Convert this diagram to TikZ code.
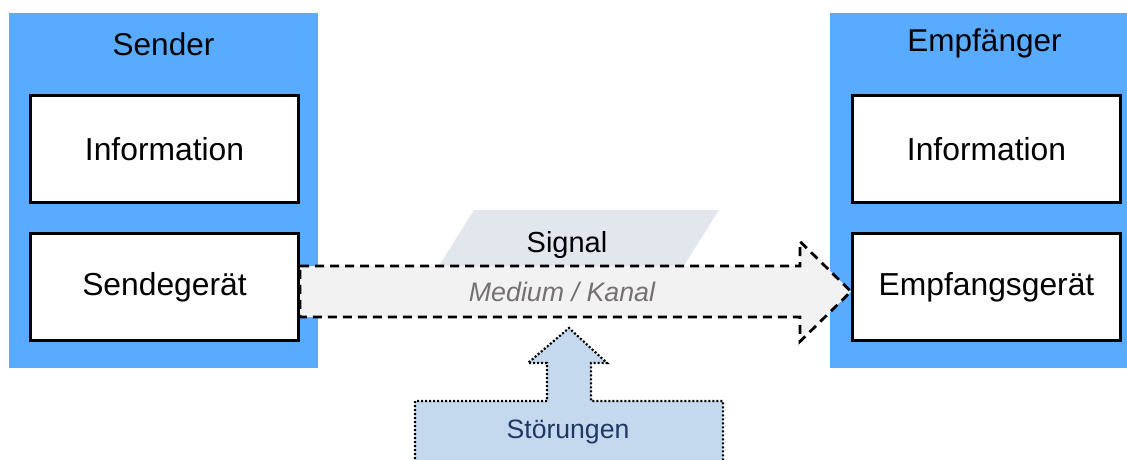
\documentclass[tikz,border=0pt]{standalone}
\usepackage{fontspec}
\setmainfont{Liberation Sans}
\usetikzlibrary{calc}
\definecolor{frameblue}{RGB}{89,171,255}
\definecolor{stoerfill}{RGB}{197,217,238}
\definecolor{stoertext}{RGB}{31,56,100}
\definecolor{signalfill}{RGB}{226,231,238}
\definecolor{mediumfill}{RGB}{242,242,242}
\definecolor{mediumtext}{RGB}{118,113,113}
\tikzset{
  x=1pt, y=1pt,
  blueframe/.style={fill=frameblue, draw=none, minimum width=309pt, minimum height=355pt, inner sep=0pt},
  whitebox/.style={fill=white, draw=black, line width=3pt, minimum width=268pt, minimum height=107pt, inner sep=0pt, font=\fontsize{31.8pt}{38pt}\selectfont},
  title/.style={inner sep=0pt, font=\fontsize{31.5pt}{38pt}\selectfont},
  medium/.style={fill=mediumfill, draw=black, line width=2.8pt, dash pattern=on 9pt off 6pt, line join=miter},
  stoer/.style={fill=stoerfill, draw=black, line width=2.2pt, dash pattern=on 2pt off 2pt},
}
\begin{document}
\begin{tikzpicture}
\useasboundingbox (0,0) rectangle (1127,-459);
\clip (0,0) rectangle (1127,-459);
% frames
\node[blueframe] (sender) at (163.5,-190.5) {};
\node[blueframe] (empf) at (984.5,-190.5) {};
\node[title] (sendertitle) at (163.5,-44) {Sender};
\node[title] (empftitle) at (984.5,-43) {Empfänger};
\node[whitebox] (sinfo) at (164.5,-149) {Information};
\node[whitebox] (sgeraet) at (164.5,-287) {Sendegerät};
\node[whitebox] (einfo) at (986.5,-149) {Information};
\node[whitebox] (egeraet) at (986.5,-287) {Empfangsgerät};
% signal parallelogram
\fill[signalfill] (474,-210) -- (719,-210) -- (668,-291) -- (423,-291) -- cycle;
\node[inner sep=0pt, font=\fontsize{29pt}{35pt}\selectfont] (signal) at (567,-245) {Signal};
% medium arrow
\coordinate (mstart) at ($(sgeraet.east)+(0,-4.5)$);
\coordinate (mtip) at ($(egeraet.west)+(0,-4.5)$);
\draw[medium] ($(mstart)+(0,25.5)$) -- ($(mtip)+(-51,25.5)$) -- ($(mtip)+(-51,50)$) -- (mtip)
  -- ($(mtip)+(-51,-50)$) -- ($(mtip)+(-51,-25.5)$) -- ($(mstart)+(0,-25.5)$) -- cycle;
\node[inner sep=0pt, text=mediumtext, font=\fontsize{26.8pt}{32pt}\selectfont\itshape] (mediumlabel) at (562,-292) {Medium / Kanal};
% stoerungen
\draw[stoer] (415,-475) -- (415,-401) -- (547,-401) -- (547,-363) -- (528,-363) -- (569,-328)
  -- (607,-363) -- (591,-363) -- (591,-401) -- (723,-401) -- (723,-475);
\node[inner sep=0pt, text=stoertext, font=\fontsize{26.6pt}{32pt}\selectfont] (stoerlabel) at (568,-432) {Störungen};
\end{tikzpicture}
\end{document}
